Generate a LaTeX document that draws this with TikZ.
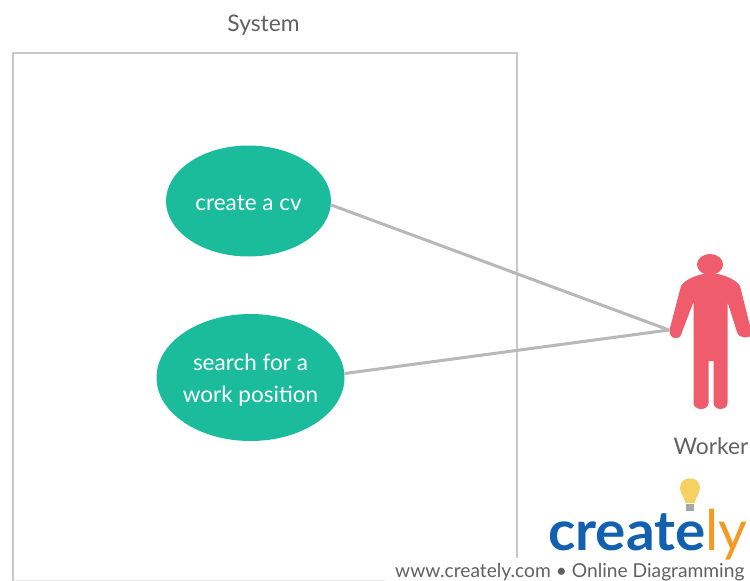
\documentclass[tikz,border=0pt]{standalone}
\usepackage{fontspec}
\setmainfont{Lato}
\definecolor{framec}{HTML}{C9C9C9}
\definecolor{linec}{HTML}{B8B8B8}
\definecolor{usec}{HTML}{1ABC9C}
\definecolor{actorc}{HTML}{EF5C6B}
\definecolor{txt}{HTML}{616161}
\definecolor{logob}{HTML}{1260AE}
\definecolor{logoo}{HTML}{F49A22}
\definecolor{bulb}{HTML}{F6D060}
\tikzset{
  sysframe/.style={draw=framec,line width=2.7pt},
  usecase/.style={ellipse,fill=usec,text=white,inner sep=-4pt,align=center,font=\fontsize{22.5}{32}\selectfont},
  assoc/.style={draw=linec,line width=3pt},
  lbl/.style={text=txt,inner sep=0pt,anchor=base,font=\fontsize{22.8}{26}\selectfont},
}
\usetikzlibrary{shapes.geometric}
\begin{document}
\begin{tikzpicture}[x=1pt,y=-1pt]
\useasboundingbox (0,0) rectangle (750,581);
\fill[white] (0,0) rectangle (750,581);
\node[lbl] (systemlabel) at (263.5,31) {System};
\draw[framec!35,line width=0.8pt] (13,580.6) -- (385,580.6);
\draw[sysframe] (13,581) -- (13,53) -- (517,53) -- (517,581);
\node[usecase,minimum width=165pt,minimum height=111pt] (cv) at (248.5,201) {\rule{0pt}{19pt}create a cv};
\node[usecase,minimum width=188pt,minimum height=127pt] (search) at (250.5,377.5) {\rule{0pt}{21pt}search for a\\work position};
\coordinate (hand) at (669,330);
\draw[assoc] ([yshift=-4pt]cv.east) -- (hand);
\draw[assoc] ([yshift=4pt]search.east) -- (hand);
% actor
\fill[actorc] (710,264.5) ellipse (13 and 10.5);
\fill[actorc] (703,274) .. controls (694,276) and (685,280) .. (681,286)
 -- (669.5,330) .. controls (669,340) and (681,341) .. (682,332)
 -- (693.5,302) -- (693.5,403) .. controls (694,411) and (708,411) .. (708.5,403)
 -- (708.5,361) -- (713.5,361) -- (713.5,403) .. controls (714,411) and (727,411) .. (727.5,403)
 -- (727.5,302) -- (737,332) .. controls (739,339) and (750,339) .. (752,334)
 -- (740,286) .. controls (736,280) and (727,276) .. (718,274) -- cycle;
\node[lbl] (worker) at (711,454) {Worker};
% logo
\fill[white] (385,558) rectangle (750,581);
\fill[white] (547,505) rectangle (750,558);
\fill[bulb] (685.5,503) .. controls (684,496) and (680,494) .. (680,488) .. controls (680,475) and (700,475) .. (700,488) .. controls (700,494) and (696,496) .. (694.5,503) -- cycle;
\fill[gray!70] (686,504) rectangle (694,511);
\node[inner sep=0pt,anchor=base west,text=logob,xscale=1.03,font=\fontsize{55}{60}\selectfont\bfseries] (logo) at (548,550) {create};
\node[inner sep=0pt,anchor=base west,text=logoo,font=\fontsize{56}{60}\selectfont] (logoy) at (705,550) {ly};
\node[inner sep=0pt,anchor=base west,text=txt,font=\fontsize{19.2}{22}\selectfont] (url) at (395,577) {www.creately.com • Online Diagramming};
\end{tikzpicture}
\end{document}
